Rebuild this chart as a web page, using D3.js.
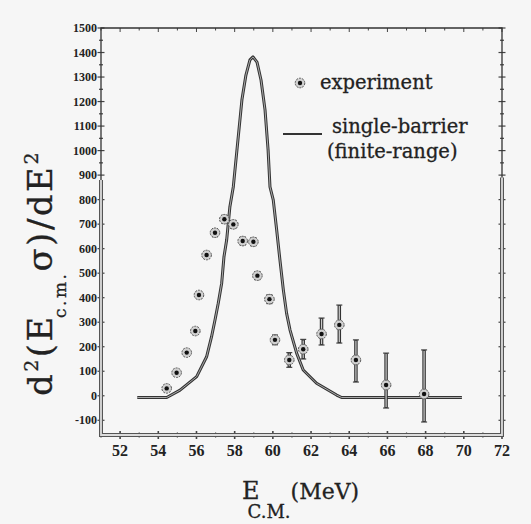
<!DOCTYPE html>
<html lang="en">
<head>
<meta charset="UTF-8" />
<title>Barrier distribution</title>
<script src="https://d3js.org/d3.v7.min.js"></script>
<style>
  html, body { margin: 0; padding: 0; background: #f6f6f6; }
  svg { display: block; }
  .tick-label { font-family: "Liberation Serif", serif; font-weight: bold; fill: #222; }
  .title { font-family: "DejaVu Serif", serif; fill: #222; stroke: #222; stroke-width: 0.3px; }
</style>
</head>
<body>
<svg id="chart" width="531" height="524"></svg>
<script>
// experimental barrier distribution (E c.m. in MeV, value, lower / upper error)
const expE   = [54.44, 54.96, 55.49, 55.94, 56.13, 56.53, 56.97, 57.46, 57.93, 58.42, 58.98, 59.19, 59.82, 60.11, 60.86, 61.59, 62.55, 63.48, 64.35, 65.93, 67.92];
const expVal = [30, 94, 176, 264, 411, 574, 665, 720, 699, 631, 628, 490, 394, 228, 146, 190, 252, 289, 146, 44, 7];
const expLo  = [10, 10, 12, 12, 14, 14, 16, 16, 16, 16, 16, 16, 18, 20, 30, 40, 45, 74, 90, 94, 114];
const expHi  = [10, 10, 12, 12, 14, 14, 16, 16, 16, 16, 16, 16, 18, 20, 30, 40, 65, 81, 82, 130, 180];

// single-barrier (finite-range) calculation
const calcE   = [52.9, 54.44, 55.14, 56.01, 56.53, 56.79, 56.97, 57.14, 57.32, 57.44, 57.58, 57.75, 57.93, 58.12, 58.38, 58.59, 58.8, 58.96, 59.17, 59.38, 59.59, 59.75, 59.85, 60.02, 60.2, 60.37, 60.55, 60.72, 60.9, 61.25, 61.59, 62.29, 63.34, 63.6, 69.9];
const calcVal = [-7, -7, 23, 78, 159, 241, 309, 377, 459, 567, 635, 771, 853, 1003, 1207, 1308, 1370, 1382, 1361, 1288, 1166, 1003, 852, 799, 676, 554, 431, 336, 268, 173, 105, 51, 3, -7, -7];

const xTicks = [52, 54, 56, 58, 60, 62, 64, 66, 68, 70, 72];
const yTicks = [-100, 0, 100, 200, 300, 400, 500, 600, 700, 800, 900, 1000, 1100, 1200, 1300, 1400, 1500];

const svg = d3.select("#chart");
const x = d3.scaleLinear().domain([51, 72]).range([101, 502]);
const y = d3.scaleLinear().domain([-160, 1500]).range([435, 28]);

const g = svg.append("g");

// minor / major ticks, crossing the frame
const xMinor = d3.range(51, 72.01, 1);
const yMinor = d3.range(-150, 1500.1, 50);
const tickColor = "#444";

xMinor.forEach(v => {
  const major = xTicks.includes(v);
  const l = major ? 4 : 2.5;
  g.append("line").attr("x1", x(v)).attr("x2", x(v)).attr("y1", y(-160) - l).attr("y2", y(-160) + l)
    .attr("stroke", tickColor).attr("stroke-width", major ? 1.6 : 1.2);
  g.append("line").attr("x1", x(v)).attr("x2", x(v)).attr("y1", y(1500)).attr("y2", y(1500) + l)
    .attr("stroke", tickColor).attr("stroke-width", 1);
});
yMinor.forEach(v => {
  const major = yTicks.includes(v);
  const l = major ? 3.5 : 2;
  g.append("line").attr("x1", x(51) - l).attr("x2", x(51) + l).attr("y1", y(v)).attr("y2", y(v))
    .attr("stroke", tickColor).attr("stroke-width", 1.2);
  g.append("line").attr("x1", x(72) - l).attr("x2", x(72) + l).attr("y1", y(v)).attr("y2", y(v))
    .attr("stroke", tickColor).attr("stroke-width", 1.2);
});

// frame: thin top part, hollow (double) lower part
g.append("path")
  .attr("d", `M${x(51)},${y(-160)}V${y(1500)}H${x(72)}V${y(-160)}Z`)
  .attr("fill", "none").attr("stroke", "#333").attr("stroke-width", 1.3);
const lower = `M${x(51)},${y(880)}V${y(-160)}H${x(72)}V${y(890)}`;
g.append("path").attr("d", lower).attr("fill", "none").attr("stroke", "#555").attr("stroke-width", 4);
g.append("path").attr("d", lower).attr("fill", "none").attr("stroke", "#dcdcdc").attr("stroke-width", 1.8);

// tick labels
g.selectAll("text.xl").data(xTicks).enter().append("text")
  .attr("class", "tick-label").attr("x", d => x(d)).attr("y", 456)
  .attr("text-anchor", "middle").attr("font-size", 16).text(d => d);
g.selectAll("text.yl").data(yTicks).enter().append("text")
  .attr("class", "tick-label").attr("x", 97).attr("y", d => y(d) + 4)
  .attr("text-anchor", "end").attr("font-size", 12).text(d => d);

// calculation curve
const line = d3.line().x(d => x(d[0])).y(d => y(d[1]));
const calc = calcE.map((e, i) => [e, calcVal[i]]);
g.append("path").datum(calc).attr("d", line).attr("fill", "none")
  .attr("stroke", "#333").attr("stroke-width", 3).attr("stroke-linejoin", "round");
g.append("path").datum(calc).attr("d", line).attr("fill", "none")
  .attr("stroke", "#aaa").attr("stroke-width", 1);

// error bars
expE.forEach((e, i) => {
  const x0 = x(e), y1 = y(expVal[i] + expHi[i]), y2 = y(expVal[i] - expLo[i]);
  g.append("line").attr("x1", x0).attr("x2", x0).attr("y1", y1).attr("y2", y2)
    .attr("stroke", "#333").attr("stroke-width", 3.5);
  g.append("line").attr("x1", x0).attr("x2", x0).attr("y1", y1 + 1).attr("y2", y2 - 1)
    .attr("stroke", "#ccc").attr("stroke-width", 1.2);
  [y1, y2].forEach(yy => g.append("line").attr("x1", x0 - 3).attr("x2", x0 + 3)
    .attr("y1", yy).attr("y2", yy).attr("stroke", "#444").attr("stroke-width", 1.2));
});

// markers
function marker(sel, cx, cy) {
  sel.append("circle").attr("cx", cx).attr("cy", cy).attr("r", 4.8)
    .attr("fill", "#d0d0d0").attr("stroke", "#555").attr("stroke-width", 1).attr("stroke-dasharray", "2,1");
  sel.append("circle").attr("cx", cx).attr("cy", cy).attr("r", 2.2)
    .attr("fill", "#111");
}
expE.forEach((e, i) => marker(g, x(e), y(expVal[i])));

// legend
marker(g, 300, 83);
g.append("text").attr("class", "title").attr("x", 320).attr("y", 89)
  .attr("font-size", 19.5).text("experiment");
g.append("line").attr("x1", 283).attr("x2", 322).attr("y1", 134).attr("y2", 134)
  .attr("stroke", "#333").attr("stroke-width", 2);
g.append("text").attr("class", "title").attr("x", 332).attr("y", 133)
  .attr("font-size", 19.5).text("single-barrier");
g.append("text").attr("class", "title").attr("x", 327).attr("y", 158)
  .attr("font-size", 19.5).text("(finite-range)");

// x title
const xt = g.append("text").attr("class", "title").attr("x", 242).attr("y", 499);
xt.append("tspan").attr("font-size", 24).text("E");
xt.append("tspan").attr("font-size", 18).attr("dy", 19).attr("dx", -12).text("C.M.");
xt.append("tspan").attr("font-size", 22).attr("dy", -19).attr("dx", 0).text("(MeV)");

// y title
const yt = g.append("text").attr("class", "title")
  .attr("transform", "translate(52,396) rotate(-90)")
  .attr("letter-spacing", 2.5);
yt.append("tspan").attr("font-size", 34).text("d");
yt.append("tspan").attr("font-size", 19).attr("dy", -14).text("2");
yt.append("tspan").attr("font-size", 34).attr("dy", 14).text("(E");
yt.append("tspan").attr("font-size", 17).attr("dy", 14).attr("dx", -4).text("c.m.");
yt.append("tspan").attr("font-size", 34).attr("dy", -14).text("σ)/dE");
yt.append("tspan").attr("font-size", 19).attr("dy", -14).text("2");
</script>
</body>
</html>
